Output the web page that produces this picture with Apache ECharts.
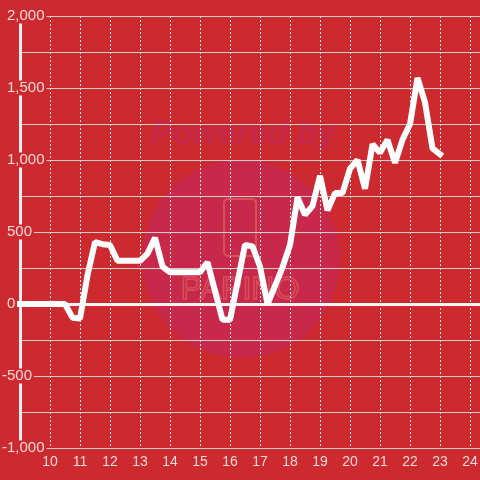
<!DOCTYPE html>
<html><head><meta charset="utf-8">
<script src="https://cdn.jsdelivr.net/npm/echarts@6/dist/echarts.min.js"></script>
<style>html,body{margin:0;padding:0;background:#cc2a2f}#c{width:480px;height:480px}</style>
</head><body><div id="c"></div>
<script>
const times = [9.0,9.25,9.5,9.75,10.0,10.25,10.5,10.75,11.0,11.25,11.5,11.75,12.0,12.25,12.5,12.75,13.0,13.25,13.5,13.75,14.0,14.25,14.5,14.75,15.0,15.25,15.5,15.75,16.0,16.25,16.5,16.75,17.0,17.25,17.5,17.75,18.0,18.25,18.5,18.75,19.0,19.25,19.5,19.75,20.0,20.25,20.5,20.75,21.0,21.25,21.5,21.75,22.0,22.25,22.5,22.75,23.0];
const values = [0,0,0,0,0,0,0,-95,-100,200,430,415,410,300,300,300,300,350,460,260,220,220,220,220,220,290,90,-110,-110,150,410,400,260,0,125,255,410,740,620,680,890,650,770,770,940,1000,800,1110,1050,1140,980,1140,1250,1570,1400,1080,1040];
const xMin = 9, xMax = 24.333;
const yMin = -1000, yMax = 2000, yStep = 500;
const watermarkTop = 'Powered by';
const watermarkBrand = 'PAPINO';

const BG = '#cc2a2f';
const LABEL = '#f2d9d9';
const GRID = '#cfcfcf';
const chart = echarts.init(document.getElementById('c'), null, {renderer: 'canvas'});
chart.setOption({
  backgroundColor: BG,
  animation: false,
  grid: {left: 20, right: 0, top: 16, bottom: 32, containLabel: false, outerBoundsMode: 'none'},
  graphic: [
    {type: 'circle', z: -10, shape: {cx: 241, cy: 259, r: 99}, style: {fill: '#c8284a'}},
    {type: 'text', z: -10, x: 243, y: 135, style: {text: watermarkTop, font: 'italic bold 33px "Liberation Sans"', fill: '#c6284a', align: 'center', verticalAlign: 'middle'}},
    {type: 'rect', z: -9, shape: {x: 224, y: 199, width: 32, height: 57, r: 4}, style: {fill: 'none', stroke: '#d9505c', lineWidth: 2}},
    {type: 'text', z: -9, x: 240, y: 290, style: {text: watermarkBrand, font: '32px "Liberation Sans"', fill: 'none', stroke: '#d9505c', lineWidth: 1.5, align: 'center', verticalAlign: 'middle'}}
  ],
  xAxis: {
    type: 'value', min: xMin, max: xMax, interval: 1,
    axisLine: {show: false}, axisTick: {show: false},
    axisLabel: {color: LABEL, fontSize: 14, fontFamily: 'Liberation Sans', margin: 7,
      formatter: v => (Number.isInteger(v) && v >= 10) ? String(v) : ''},
    splitLine: {show: true, lineStyle: {color: '#e6e6e6', width: 1, type: [2, 2]}}
  },
  yAxis: {
    type: 'value', min: yMin, max: yMax, interval: yStep,
    axisLine: {show: true, lineStyle: {color: '#eeeeee', width: 3}},
    axisTick: {show: false},
    axisLabel: {
      align: 'left', margin: 18, color: LABEL, fontSize: 15, fontFamily: 'Liberation Sans',
      formatter: v => { const s = Math.abs(v).toLocaleString('en-US'); return v < 0 ? '{n|-' + s + '}' : '{p|' + s + '}'; },
      rich: {
        p: {color: LABEL, fontSize: 15, fontFamily: 'Liberation Sans', backgroundColor: BG, padding: [0, 2, 0, 5], lineHeight: 15},
        n: {color: LABEL, fontSize: 15, fontFamily: 'Liberation Sans', backgroundColor: BG, padding: [0, 2, 0, 0], lineHeight: 15}
      }
    },
    splitLine: {show: true, lineStyle: {color: GRID, width: 1}},
    minorTick: {show: false, splitNumber: 2},
    minorSplitLine: {show: true, lineStyle: {color: GRID, width: 1}},
    z: 3
  },
  series: [{
    type: 'line',
    data: times.map((t, i) => [t, values[i]]),
    symbol: 'none', clip: false, z: 5,
    lineStyle: {color: '#ffffff', width: 6, cap: 'square', join: 'bevel'},
    markLine: {
      silent: true, symbol: ['none', 'none'], label: {show: false},
      lineStyle: {color: '#f4f4f4', width: 3, type: 'solid'},
      data: [[{coord: [xMin, 0]}, {coord: [xMax, 0]}]]
    }
  }]
});
</script></body></html>
